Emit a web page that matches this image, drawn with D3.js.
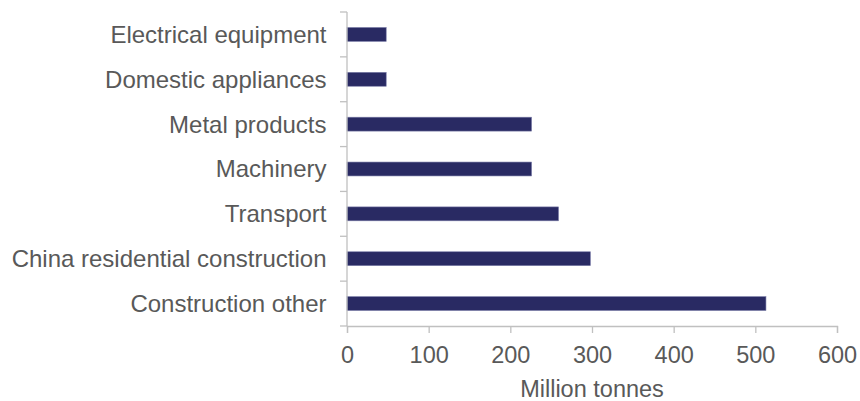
<!DOCTYPE html>
<html>
<head>
<meta charset="utf-8">
<script src="https://cdn.jsdelivr.net/npm/d3@7"></script>
<style>
  html, body { margin: 0; padding: 0; background: #fff; }
  svg { display: block; }
</style>
</head>
<body>
<svg id="chart" width="860" height="401"></svg>
<script>
// Steel end-use demand, million tonnes
const categories = [
  "Electrical equipment",
  "Domestic appliances",
  "Metal products",
  "Machinery",
  "Transport",
  "China residential construction",
  "Construction other"
];
const values = [48, 48, 226, 226, 259, 298, 513];
const xTicks = [0, 100, 200, 300, 400, 500, 600];
const xTitle = "Million tonnes";

const svg = d3.select("#chart");
const margin = { top: 12, right: 23, bottom: 75, left: 347 };
const width = 860 - margin.left - margin.right;
const height = 401 - margin.top - margin.bottom;

const axisColor = "#c0c0c0";
const textColor = "#595959";
const font = "'Liberation Sans', Arial, sans-serif";
const fontSize = 23.5;
const labelSize = 24;

const g = svg.append("g").attr("transform", `translate(${margin.left},${margin.top})`);

const x = d3.scaleLinear().domain([0, 600]).range([0, width]);
const y = d3.scaleBand().domain(categories).range([0, height]).paddingInner(0.69).paddingOuter(0.345);
const yEdges = d3.scaleLinear().domain([0, categories.length]).range([0, height]);

// Bars
g.selectAll("rect.bar")
  .data(categories)
  .join("rect")
  .attr("class", "bar")
  .attr("x", 0)
  .attr("y", d => y(d))
  .attr("width", (d, i) => x(values[i]))
  .attr("height", y.bandwidth())
  .attr("fill", "#292a63")
  .attr("stroke", "#7a7ca8")
  .attr("stroke-width", 0.6);

// Y axis line and category divider ticks
g.append("line")
  .attr("x1", 0).attr("x2", 0)
  .attr("y1", 0).attr("y2", height)
  .attr("stroke", axisColor).attr("stroke-width", 1.3);
g.selectAll("line.ytick")
  .data(d3.range(categories.length + 1))
  .join("line")
  .attr("class", "ytick")
  .attr("x1", -7).attr("x2", 0)
  .attr("y1", d => yEdges(d)).attr("y2", d => yEdges(d))
  .attr("stroke", axisColor).attr("stroke-width", 1.3);

// Category labels
g.selectAll("text.cat")
  .data(categories)
  .join("text")
  .attr("class", "cat")
  .attr("x", -20.5)
  .attr("y", d => y(d) + y.bandwidth() / 2)
  .attr("dy", "0.35em")
  .attr("text-anchor", "end")
  .attr("font-family", font)
  .attr("font-size", labelSize)
  .attr("fill", textColor)
  .text(d => d);

// X axis
const xAxis = g.append("g")
  .attr("transform", `translate(0,${height})`)
  .call(d3.axisBottom(x).tickValues(xTicks).tickSize(7).tickPadding(13).tickFormat(d3.format("d")));
xAxis.select(".domain").attr("stroke", axisColor).attr("stroke-width", 1.3);
xAxis.selectAll(".tick line").attr("stroke", axisColor).attr("stroke-width", 1.3);
xAxis.selectAll(".tick text")
  .attr("font-family", font)
  .attr("font-size", fontSize)
  .attr("fill", textColor);

// X axis title
g.append("text")
  .attr("x", width / 2)
  .attr("y", height + 70.5)
  .attr("text-anchor", "middle")
  .attr("font-family", font)
  .attr("font-size", fontSize)
  .attr("fill", textColor)
  .text(xTitle);
</script>
</body>
</html>
